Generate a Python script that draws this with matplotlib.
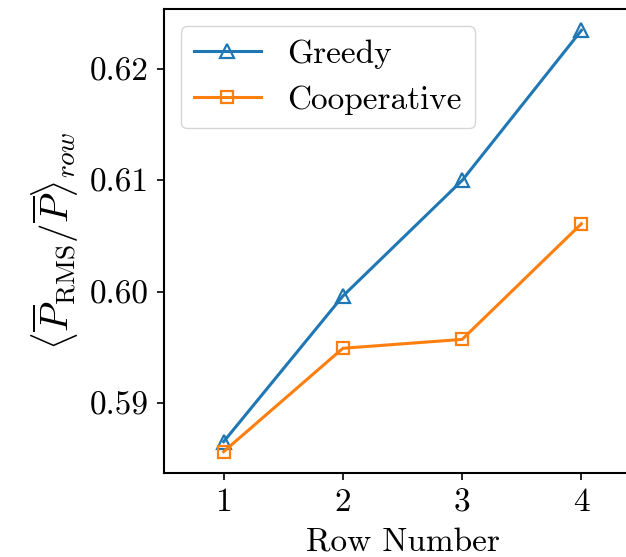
import matplotlib
matplotlib.use("Agg")
import matplotlib.pyplot as plt

rows = [1, 2, 3, 4]
greedy = [0.5865, 0.5996, 0.6100, 0.6235]
cooperative = [0.5856, 0.5949, 0.5957, 0.6061]
xtick_labels = ["1", "2", "3", "4"]

plt.rcParams["font.family"] = "serif"
plt.rcParams["font.serif"] = ["cmr10"]
plt.rcParams["mathtext.fontset"] = "cm"
plt.rcParams["axes.formatter.use_mathtext"] = True
plt.rcParams["font.size"] = 24

fig = plt.figure(figsize=(6.26, 5.57), dpi=100)
ax = fig.add_axes([0.262, 0.1513, 0.762, 0.832])

ax.plot(rows, greedy, marker="^", ms=10, mfc="none", mew=1.6, lw=2.2,
        color="#1f77b4", label="Greedy")
ax.plot(rows, cooperative, marker="s", ms=9, mfc="none", mew=1.6, lw=2.2,
        color="#ff7f0e", label="Cooperative")

ax.set_xlim(0.5, 4.5)
ax.set_xticks(rows)
ax.set_xticklabels(xtick_labels)
ax.set_yticks([0.59, 0.60, 0.61, 0.62])
ax.set_yticklabels(["0.59", "0.60", "0.61", "0.62"])
for s in ax.spines.values():
    s.set_linewidth(1.5)
ax.tick_params(width=1.2, length=5, pad=6)

ax.set_xlabel("Row Number", labelpad=8)
ax.set_ylabel(r"$\langle\overline{P}_{\mathrm{RMS}}/\overline{P}\rangle_{row}$",
              fontsize=28, labelpad=6)
ax.legend(loc="upper left", fontsize=24)

fig.savefig("out.png", dpi=100)
